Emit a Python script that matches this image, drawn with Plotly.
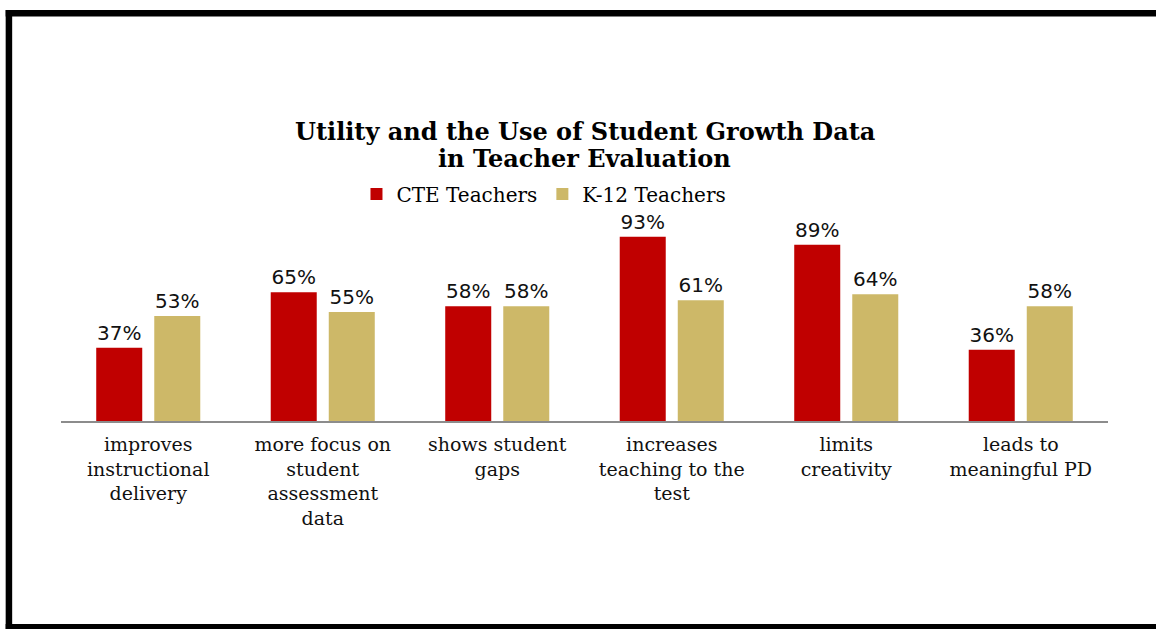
import plotly.graph_objects as go

categories = [
    "improves<br>instructional<br>delivery",
    "more focus on<br>student<br>assessment<br>data",
    "shows student<br>gaps",
    "increases<br>teaching to the<br>test",
    "limits<br>creativity",
    "leads to<br>meaningful PD",
]
cte_values = [37, 65, 58, 93, 89, 36]
k12_values = [53, 55, 58, 61, 64, 58]
series_names = ["CTE Teachers", "K-12 Teachers"]
title_lines = ["Utility and the Use of Student Growth Data", "in Teacher Evaluation"]

W, H = 1156, 629
L, R = 61.3, 1107.7
T, B = 223, 421

def px_x(x):
    return (x - L) / (R - L)

def px_y(y):
    return (B - y) / (B - T)

fig = go.Figure()
fig.add_trace(go.Bar(
    x=categories, y=cte_values, name=series_names[0],
    marker=dict(color="#C00000", line=dict(width=0)),
    texttemplate="%{y}%", textposition="outside", cliponaxis=False,
    textfont=dict(family="DejaVu Sans", size=20, color="#111"),
))
fig.add_trace(go.Bar(
    x=categories, y=k12_values, name=series_names[1],
    marker=dict(color="#CDB868", line=dict(width=0)),
    texttemplate="%{y}%", textposition="outside", cliponaxis=False,
    textfont=dict(family="DejaVu Sans", size=20, color="#111"),
))

shapes = [
    dict(type="rect", xref="paper", yref="paper", x0=px_x(6), x1=px_x(1156), y0=px_y(10), y1=px_y(16.5),
         fillcolor="black", line=dict(width=0), layer="above"),
    dict(type="rect", xref="paper", yref="paper", x0=px_x(6), x1=px_x(12.5), y0=px_y(10), y1=px_y(629),
         fillcolor="black", line=dict(width=0), layer="above"),
    dict(type="rect", xref="paper", yref="paper", x0=px_x(6), x1=px_x(1156), y0=px_y(624), y1=px_y(629),
         fillcolor="black", line=dict(width=0), layer="above"),
]

annotations = [
    dict(text="<b>%s</b>" % title_lines[0], xref="paper", yref="paper", x=0.5, y=px_y(131),
         xanchor="center", yanchor="middle", showarrow=False,
         font=dict(family="DejaVu Serif", size=24, color="black")),
    dict(text="<b>%s</b>" % title_lines[1], xref="paper", yref="paper", x=0.5, y=px_y(158),
         xanchor="center", yanchor="middle", showarrow=False,
         font=dict(family="DejaVu Serif", size=24, color="black")),
]

fig.update_layout(
    width=W, height=H,
    margin=dict(l=L, r=W - R, t=T, b=H - B, pad=0),
    paper_bgcolor="white", plot_bgcolor="white",
    barmode="group", bargap=0.335, bargroupgap=0.207,
    legend=dict(
        orientation="h", x=px_x(544), xanchor="center", y=px_y(194), yanchor="middle",
        font=dict(family="DejaVu Serif", size=20, color="black"),
        itemclick=False, bgcolor="rgba(0,0,0,0)",
    ),
    xaxis=dict(
        showline=True, linecolor="#8c8c8c", linewidth=2,
        ticks="outside", ticklen=5, tickcolor="rgba(0,0,0,0)",
        tickfont=dict(family="DejaVu Serif", size=19, color="#111"),
        showgrid=False,
    ),
    yaxis=dict(range=[0, 100], visible=False, showgrid=False, zeroline=False),
    shapes=shapes,
    annotations=annotations,
)

fig.write_html("out.html")
